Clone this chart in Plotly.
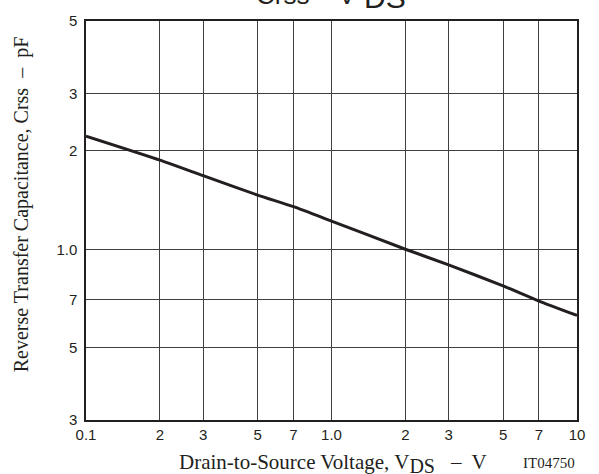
import plotly.graph_objects as go

# Reverse transfer capacitance vs drain-to-source voltage
vds = [0.1, 0.2, 0.3, 0.5, 0.7, 1.0, 2.0, 3.0, 5.0, 7.0, 10.0]
crss = [2.22, 1.875, 1.68, 1.465, 1.35, 1.22, 1.0, 0.896, 0.772, 0.694, 0.627]

x_tickvals = [0.1, 0.2, 0.3, 0.5, 0.7, 1.0, 2.0, 3.0, 5.0, 7.0, 10.0]
x_ticktext = ["0.1", "2", "3", "5", "7", "1.0", "2", "3", "5", "7", "10"]
y_tickvals = [0.3, 0.5, 0.7, 1.0, 2.0, 3.0, 5.0]
y_ticktext = ["3", "5", "7", "1.0", "2", "3", "5"]

INK = "#231f20"
SANS = "Liberation Sans, Arial, sans-serif"
SERIF = "Liberation Serif, Times New Roman, serif"

fig = go.Figure()
fig.add_trace(go.Scatter(
    x=vds, y=crss, mode="lines",
    line=dict(color=INK, width=3, shape="spline", smoothing=0.5),
    showlegend=False, hoverinfo="skip",
))

axis_common = dict(
    type="log",
    showgrid=True, gridcolor="#404040", gridwidth=1,
    showline=True, linecolor=INK, linewidth=1.5, mirror=True,
    ticks="", zeroline=False,
    tickfont=dict(family=SANS, size=15, color=INK),
)

fig.update_layout(
    width=599, height=474,
    margin=dict(l=86, r=22, t=13, b=54),
    paper_bgcolor="white", plot_bgcolor="white",
    xaxis=dict(range=[-1, 1], tickvals=x_tickvals, ticktext=x_ticktext, **axis_common),
    yaxis=dict(range=[-0.5229, 0.69897], tickvals=y_tickvals, ticktext=y_ticktext,
               ticklabelstandoff=4, **axis_common),
)

notes = [
    # heading
    dict(text="Crss – V", x=0.554, y=1.023, xanchor="right", yanchor="bottom",
         font=dict(family=SANS, size=26, color=INK)),
    dict(text="DS", x=0.562, y=1.012, xanchor="left", yanchor="bottom",
         font=dict(family=SANS, size=30, color=INK)),
    # x-axis title
    dict(text="Drain-to-Source Voltage, V<sub><span style='font-size:20px'>DS</span></sub>",
         x=0.1853, y=-0.07, xanchor="left", yanchor="top",
         font=dict(family=SERIF, size=21, color=INK)),
    dict(text="–  V", x=0.737, y=-0.07, xanchor="left", yanchor="top",
         font=dict(family=SERIF, size=21, color=INK)),
    dict(text="IT04750", x=1.0, y=-0.083, xanchor="right", yanchor="top",
         font=dict(family=SERIF, size=15, color=INK)),
    # y-axis title
    dict(text="Reverse Transfer Capacitance, Crss  –  pF", textangle=-90,
         x=-0.131, y=0.54, xanchor="center", yanchor="middle",
         font=dict(family=SERIF, size=20, color=INK)),
]
for n in notes:
    fig.add_annotation(xref="paper", yref="paper", showarrow=False, **n)

fig.write_html("out.html")
